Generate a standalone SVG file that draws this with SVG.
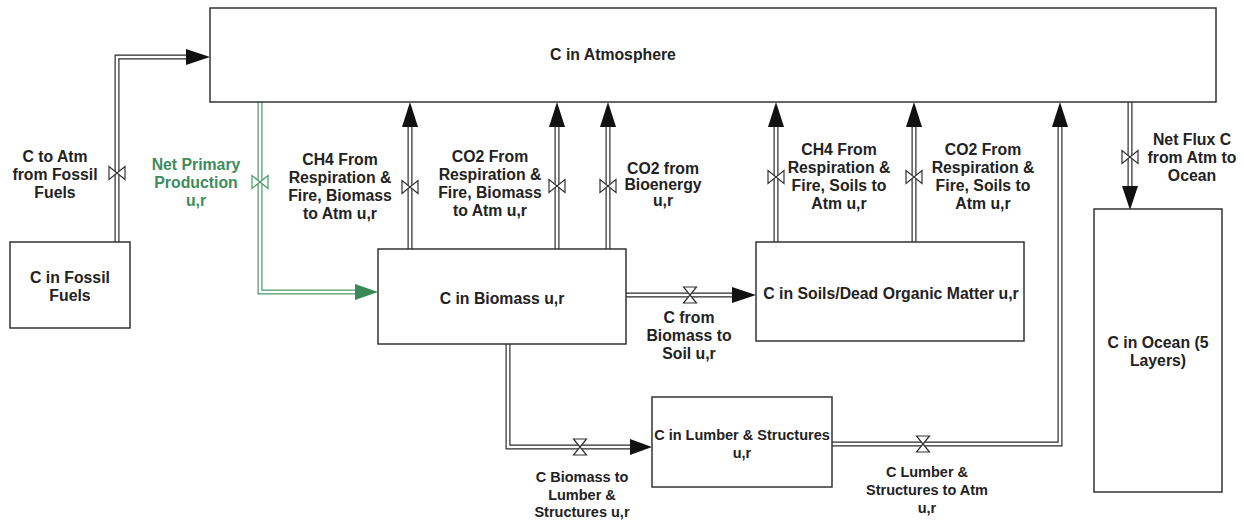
<svg xmlns="http://www.w3.org/2000/svg" xmlns:xlink="http://www.w3.org/1999/xlink" width="1244" height="520" viewBox="0 0 1244 520">
<style>
.box{fill:#fff;stroke:#333;stroke-width:1.5}
.t{font-family:"Liberation Sans",Arial,sans-serif;font-weight:bold;font-size:15.8px;fill:#222;text-anchor:middle}
.s{font-size:14.5px}
.g{fill:#3c8c5c}
.po{fill:none;stroke:#2a2a2a;stroke-width:5;stroke-linejoin:miter}
.pi{fill:none;stroke:#fff;stroke-width:2.6;stroke-linejoin:miter}
.gpo{fill:none;stroke:#4a9a6a;stroke-width:5}
.ah{fill:#111}
.gah{fill:#3a8a58}
.v{fill:#fff;stroke:#333;stroke-width:1.2}
.gv{fill:#fff;stroke:#4a9a6a;stroke-width:1.2}
</style>
<defs>
<path id="vh" d="M-8,-6.5 L-8,6.5 L8,-6.5 L8,6.5 Z"/>
<path id="vv" d="M-6.5,-8 L6.5,-8 L-6.5,8 L6.5,8 Z"/>
</defs>
<rect width="1244" height="520" fill="#fff"/>

<g id="connectors">
  <!-- fossil to atm -->
  <path class="po" d="M117,242 V57 H187"/><path class="pi" d="M117,242 V57 H187"/>
  <polygon class="ah" points="186,49 210,57 186,65"/>
  <use href="#vh" class="v" x="117" y="173"/>
  <!-- NPP -->
  <path class="gpo" d="M260,102 V292 H356"/><path class="pi" d="M260,102 V292 H356"/>
  <polygon class="gah" points="355,284 378,292 355,300"/>
  <use href="#vh" class="gv" x="260" y="182"/>
  <!-- CH4 biomass -->
  <path class="po" d="M410,249 V126"/><path class="pi" d="M410,249 V126"/>
  <polygon class="ah" points="402,127 410,102 418,127"/>
  <use href="#vh" class="v" x="410" y="187"/>
  <!-- CO2 biomass -->
  <path class="po" d="M557,249 V126"/><path class="pi" d="M557,249 V126"/>
  <polygon class="ah" points="549,127 557,102 565,127"/>
  <use href="#vh" class="v" x="557" y="186"/>
  <!-- CO2 bioenergy -->
  <path class="po" d="M608,249 V126"/><path class="pi" d="M608,249 V126"/>
  <polygon class="ah" points="600,127 608,102 616,127"/>
  <use href="#vh" class="v" x="608" y="186"/>
  <!-- CH4 soils -->
  <path class="po" d="M776,242 V126"/><path class="pi" d="M776,242 V126"/>
  <polygon class="ah" points="768,127 776,102 784,127"/>
  <use href="#vh" class="v" x="776" y="177"/>
  <!-- CO2 soils -->
  <path class="po" d="M914,242 V126"/><path class="pi" d="M914,242 V126"/>
  <polygon class="ah" points="906,127 914,102 922,127"/>
  <use href="#vh" class="v" x="914" y="177"/>
  <!-- ocean -->
  <path class="po" d="M1130,102 V187"/><path class="pi" d="M1130,102 V187"/>
  <polygon class="ah" points="1122,186 1130,210 1138,186"/>
  <use href="#vh" class="v" x="1130" y="157"/>
  <!-- biomass to soil -->
  <path class="po" d="M626,295 H733"/><path class="pi" d="M626,295 H733"/>
  <polygon class="ah" points="732,287 756,295 732,303"/>
  <use href="#vv" class="v" x="690" y="295"/>
  <!-- biomass to lumber -->
  <path class="po" d="M508,344 V447 H631"/><path class="pi" d="M508,344 V447 H631"/>
  <polygon class="ah" points="630,439 652,447 630,455"/>
  <use href="#vv" class="v" x="580" y="447"/>
  <!-- lumber to atm -->
  <path class="po" d="M832,444 H1060 V126"/><path class="pi" d="M832,444 H1060 V126"/>
  <polygon class="ah" points="1052,127 1060,102 1068,127"/>
  <use href="#vv" class="v" x="923" y="444"/>
</g>

<g id="atmosphere">
  <rect class="box" x="210" y="8" width="1006" height="94"/>
  <text class="t" x="613" y="60">C in Atmosphere</text>
</g>
<g id="fossil">
  <rect class="box" x="10" y="242" width="120" height="86"/>
  <text class="t" x="70" y="283">C in Fossil</text>
  <text class="t" x="70" y="301">Fuels</text>
</g>
<g id="biomass">
  <rect class="box" x="378" y="249" width="248" height="95"/>
  <text class="t" x="502" y="304">C in Biomass u,r</text>
</g>
<g id="soils">
  <rect class="box" x="756" y="242" width="268" height="99"/>
  <text class="t" x="891" y="299">C in Soils/Dead Organic Matter u,r</text>
</g>
<g id="lumber">
  <rect class="box" x="652" y="397" width="180" height="90"/>
  <text class="t s" x="742" y="440">C in Lumber &amp; Structures</text>
  <text class="t s" x="742" y="458">u,r</text>
</g>
<g id="ocean">
  <rect class="box" x="1094" y="209" width="128" height="283"/>
  <text class="t" x="1158" y="348">C in Ocean (5</text>
  <text class="t" x="1158" y="366">Layers)</text>
</g>

<g id="labels">
  <text class="t" x="55" y="162">C to Atm</text>
  <text class="t" x="55" y="180">from Fossil</text>
  <text class="t" x="55" y="198">Fuels</text>

  <text class="t g" x="196" y="170">Net Primary</text>
  <text class="t g" x="196" y="188">Production</text>
  <text class="t g" x="196" y="206">u,r</text>

  <text class="t" x="340" y="165">CH4 From</text>
  <text class="t" x="340" y="183">Respiration &amp;</text>
  <text class="t" x="340" y="201">Fire, Biomass</text>
  <text class="t" x="340" y="219">to Atm u,r</text>

  <text class="t" x="490" y="162">CO2 From</text>
  <text class="t" x="490" y="180">Respiration &amp;</text>
  <text class="t" x="490" y="198">Fire, Biomass</text>
  <text class="t" x="490" y="216">to Atm u,r</text>

  <text class="t" x="663" y="174">CO2 from</text>
  <text class="t" x="663" y="190">Bioenergy</text>
  <text class="t" x="663" y="206">u,r</text>

  <text class="t" x="839" y="155">CH4 From</text>
  <text class="t" x="839" y="173">Respiration &amp;</text>
  <text class="t" x="839" y="191">Fire, Soils to</text>
  <text class="t" x="839" y="209">Atm u,r</text>

  <text class="t" x="983" y="155">CO2 From</text>
  <text class="t" x="983" y="173">Respiration &amp;</text>
  <text class="t" x="983" y="191">Fire, Soils to</text>
  <text class="t" x="983" y="209">Atm u,r</text>

  <text class="t" x="1192" y="145">Net Flux C</text>
  <text class="t" x="1192" y="163">from Atm to</text>
  <text class="t" x="1192" y="181">Ocean</text>

  <text class="t" x="689" y="323">C from</text>
  <text class="t" x="689" y="341">Biomass to</text>
  <text class="t" x="689" y="359">Soil u,r</text>

  <text class="t s" x="582" y="482">C Biomass to</text>
  <text class="t s" x="582" y="500">Lumber &amp;</text>
  <text class="t s" x="582" y="517">Structures u,r</text>

  <text class="t s" x="927" y="477">C Lumber &amp;</text>
  <text class="t s" x="927" y="495">Structures to Atm</text>
  <text class="t s" x="927" y="513">u,r</text>
</g>
</svg>
